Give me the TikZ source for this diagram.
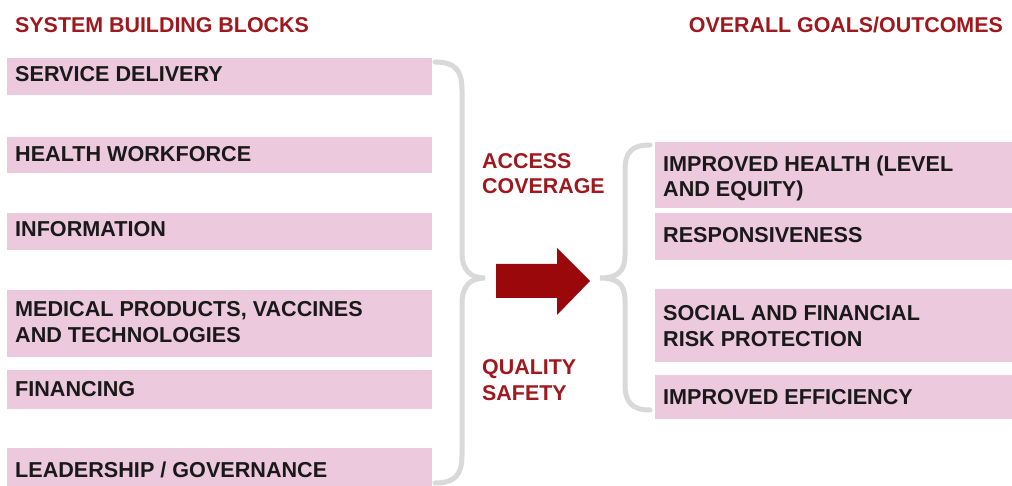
\documentclass[tikz,border=0pt]{standalone}
\usepackage{fontspec}
\setmainfont{Liberation Sans}
\definecolor{boxpink}{RGB}{237,201,221}
\definecolor{headred}{RGB}{158,24,30}
\definecolor{arrowred}{RGB}{155,8,12}
\definecolor{bracegray}{RGB}{217,217,217}
\tikzset{
  pbox/.style={fill=boxpink, draw=none, inner sep=0pt, anchor=north west},
  btxt/.style={font=\bfseries\fontsize{21.6}{25.5}\selectfont, text=black!90, inner sep=0pt, anchor=base west, align=left},
  rtxt/.style={font=\bfseries\fontsize{21.4}{25.5}\selectfont, text=headred, inner sep=0pt, anchor=base west, align=left},
  bracestyle/.style={draw=bracegray, line width=5pt, line cap=round},
}
\begin{document}
\begin{tikzpicture}[x=1pt,y=-1pt]
\useasboundingbox (0,0) rectangle (1012,486);
\fill[white] (0,0) rectangle (1012,486);
% headers
\node[rtxt] (h1) at (15,33) {SYSTEM BUILDING BLOCKS};
\node[rtxt, anchor=base east] (h2) at (1003,33) {OVERALL GOALS/OUTCOMES};
% left boxes
\node[pbox, minimum width=425pt, minimum height=37pt] (l1) at (7,58) {};
\node[pbox, minimum width=425pt, minimum height=36pt] (l2) at (7,137) {};
\node[pbox, minimum width=425pt, minimum height=37pt] (l3) at (7,213) {};
\node[pbox, minimum width=425pt, minimum height=67pt] (l4) at (7,290) {};
\node[pbox, minimum width=425pt, minimum height=39pt] (l5) at (7,370) {};
\node[pbox, minimum width=425pt, minimum height=38pt] (l6) at (7,448) {};
\node[btxt] (lt1) at (15,82) {SERVICE DELIVERY};
\node[btxt] (lt2) at (15,162) {HEALTH WORKFORCE};
\node[btxt] (lt3) at (15,237) {INFORMATION};
\node[btxt] (lt4) at (15,342) {MEDICAL PRODUCTS, VACCINES\\AND TECHNOLOGIES};
\node[btxt] (lt5) at (15,396) {FINANCING};
\node[btxt] (lt6) at (15,477) {LEADERSHIP / GOVERNANCE};
% right boxes
\node[pbox, minimum width=357pt, minimum height=66pt] (r1) at (655,142) {};
\node[pbox, minimum width=357pt, minimum height=47pt] (r2) at (655,213) {};
\node[pbox, minimum width=357pt, minimum height=73pt] (r3) at (655,289) {};
\node[pbox, minimum width=357pt, minimum height=44pt] (r4) at (655,375) {};
\node[btxt] (rt1) at (663,197) {IMPROVED HEALTH (LEVEL\\AND EQUITY)};
\node[btxt] (rt2) at (663,243) {RESPONSIVENESS};
\node[btxt] (rt3) at (663,346) {SOCIAL AND FINANCIAL\\RISK PROTECTION};
\node[btxt] (rt4) at (663,404) {IMPROVED EFFICIENCY};
% middle labels
\node[rtxt] (m1) at (482,194) {ACCESS\\COVERAGE};
\node[rtxt] (m2) at (482,400) {QUALITY\\SAFETY};
% braces
\draw[bracestyle] (435,62) .. controls (455,62) and (462,70) .. (462,90) -- (462,252)
  .. controls (462,270) and (470,278) .. (485,278)
  .. controls (470,278) and (462,286) .. (462,304) -- (462,455)
  .. controls (462,475) and (455,483) .. (435,483);
\draw[bracestyle] (650,145) .. controls (632,145) and (625,152) .. (625,170) -- (625,255)
  .. controls (625,272) and (617,278) .. (600,278)
  .. controls (617,278) and (625,284) .. (625,300) -- (625,385)
  .. controls (625,402) and (632,410) .. (650,410);
% arrow
\fill[arrowred] (496,264) -- (557,264) -- (557,248) -- (590,281) -- (557,315) -- (557,298) -- (496,298) -- cycle;
\end{tikzpicture}
\end{document}
